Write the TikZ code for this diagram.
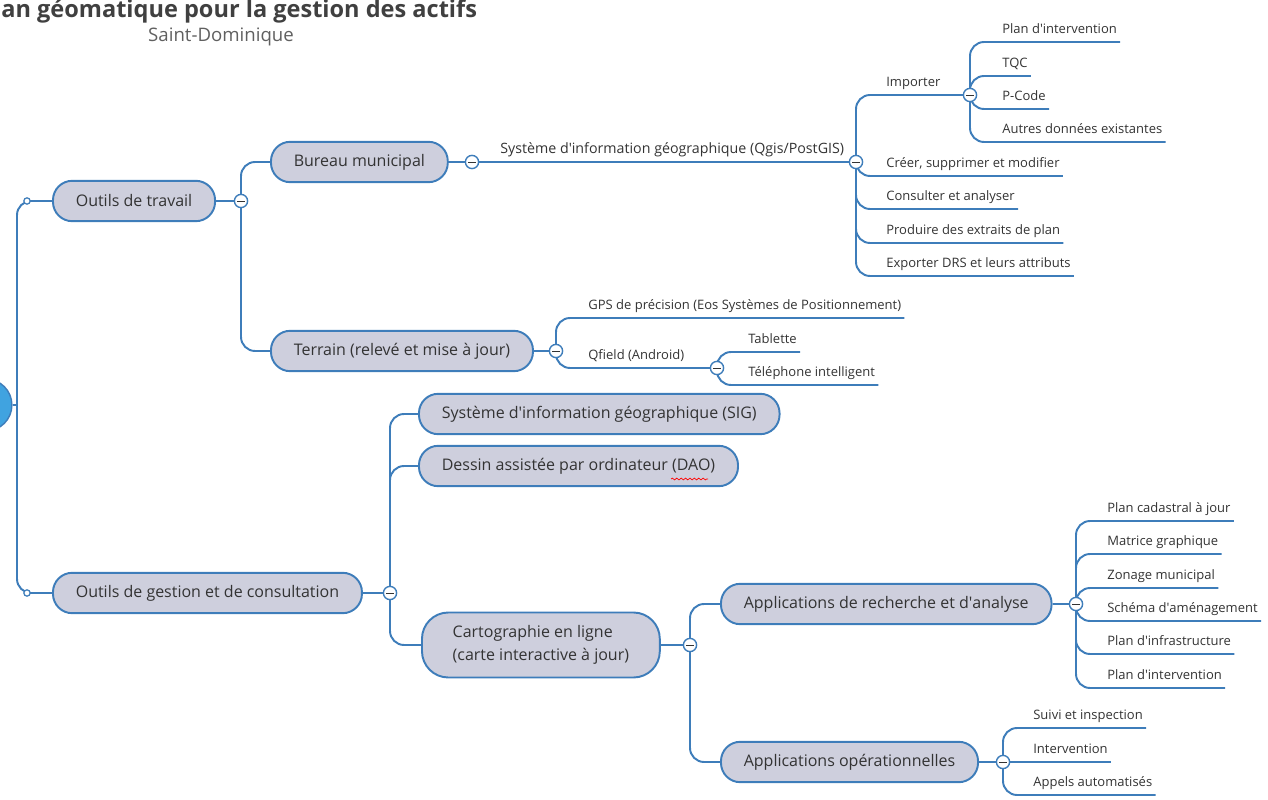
\documentclass[tikz,border=0pt]{standalone}
\usepackage{fontspec}
\setmainfont{Open Sans}
\usetikzlibrary{positioning,decorations.pathmorphing}
\definecolor{lineblue}{RGB}{62,125,186}
\definecolor{topicfill}{RGB}{206,207,221}
\definecolor{rootblue}{RGB}{64,163,224}
\definecolor{inkgray}{RGB}{51,51,51}
\definecolor{titlegray}{RGB}{64,64,64}
\definecolor{subgray}{RGB}{96,96,96}

\begin{document}
\begin{tikzpicture}[x=0.02cm, y=-0.02cm,
    topic/.style = {draw=lineblue, line width=1.1pt, fill=topicfill, rounded corners=11pt, minimum height=23pt, inner xsep=13pt, anchor=west, text=inkgray, font=\fontsize{9.1}{11.5}\selectfont},
    leaf/.style = {anchor=south west, inner xsep=1.7pt, inner ysep=2pt, text height=0.75em, text depth=0.25em, text=inkgray, font=\fontsize{7.4}{9}\selectfont},
    link/.style = {draw=lineblue, line width=1.1pt, rounded corners=8pt},
    coll/.style = {circle, draw=lineblue, fill=white, line width=0.8pt, minimum size=7.5pt, inner sep=0pt, path picture={\draw[inkgray, line width=0.5pt] ([xshift=-2pt]path picture bounding box.center) -- ([xshift=2pt]path picture bounding box.center);}},
    knob/.style = {circle, draw=lineblue, fill=white, line width=0.7pt, minimum size=3.6pt, inner sep=0pt}]
    \useasboundingbox (0,0) rectangle (1268,800);

    \node[anchor=west, inner sep=0pt, font=\bfseries\fontsize{13.4}{16}\selectfont, text=titlegray] (title) at (1,11) {an géomatique pour la gestion des actifs};
    \node[font=\fontsize{10.6}{13}\selectfont, text=subgray] (subtitle) at (221,37) {Saint-Dominique};

    \node[circle, fill=rootblue, draw=lineblue, line width=0.8pt, minimum size=29.5pt] (root) at (-14,405) {};

    \node[topic] (travail) at (52,201) {Outils de travail};
    \node[topic] (gestion) at (52,593) {Outils de gestion et de consultation};
    \node[topic] (bureau) at (270,162) {Bureau municipal};
    \node[topic] (terrain) at (270,351) {Terrain (relevé et mise à jour)};
    \node[topic] (sig) at (418,414) {Système d\textquotesingle{}information géographique (SIG)};
    \node[topic] (dao) at (418,466) {Dessin assistée par ordinateur (DAO)};
    \node[topic, align=left, minimum height=37pt, inner xsep=17.5pt, rounded corners=15pt, font=\fontsize{9.1}{13}\selectfont] (carto) at (421,645) {Cartographie en ligne\\(carte interactive à jour)};
    \node[topic] (appr) at (720,604) {Applications de recherche et d\textquotesingle{}analyse};
    \node[topic] (appo) at (720,762) {Applications opérationnelles};

    \node[leaf, font=\fontsize{8.1}{10}\selectfont] (qgis) at (497,162) {Système d\textquotesingle{}information géographique (Qgis/PostGIS)};
    \node[leaf] (importer) at (883,95) {Importer};
    \node[leaf] (creer) at (883,176) {Créer, supprimer et modifier};
    \node[leaf] (consulter) at (883,209) {Consulter et analyser};
    \node[leaf] (produire) at (883,243) {Produire des extraits de plan};
    \node[leaf] (exporter) at (883,276) {Exporter DRS et leurs attributs};
    \node[leaf] (pinterv) at (999,42) {Plan d\textquotesingle{}intervention};
    \node[leaf] (tqc) at (999,76) {TQC};
    \node[leaf] (pcode) at (999,109) {P-Code};
    \node[leaf] (autres) at (999,142) {Autres données existantes};
    \node[leaf] (gps) at (585,318) {GPS de précision (Eos Systèmes de Positionnement)};
    \node[leaf] (qfield) at (585,368) {Qfield (Android)};
    \node[leaf] (tablette) at (745,352) {Tablette};
    \node[leaf] (telephone) at (745,385) {Téléphone intelligent};
    \node[leaf] (cadastre) at (1104,521) {Plan cadastral à jour};
    \node[leaf] (matrice) at (1104,554) {Matrice graphique};
    \node[leaf] (zonage) at (1104,588) {Zonage municipal};
    \node[leaf] (schema) at (1104,621) {Schéma d\textquotesingle{}aménagement};
    \node[leaf] (infra) at (1104,654) {Plan d\textquotesingle{}infrastructure};
    \node[leaf] (planinterv) at (1104,688) {Plan d\textquotesingle{}intervention};
    \node[leaf] (suivi) at (1030,728) {Suivi et inspection};
    \node[leaf] (interv) at (1030,762) {Intervention};
    \node[leaf] (appels) at (1030,795) {Appels automatisés};

    \coordinate (rootjoin) at (17,405);
    \coordinate (k1) at (27,201);
    \coordinate (k2) at (27,593);
    \coordinate (c1) at (241,201);
    \coordinate (c2) at (472,162);
    \coordinate (c3) at (856,162);
    \coordinate (c4) at (970,95);
    \coordinate (c5) at (556,351);
    \coordinate (c6) at (717,368);
    \coordinate (c7) at (390,593);
    \coordinate (c8) at (690,645);
    \coordinate (c9) at (1076,604);
    \coordinate (c10) at (1003,762);

    \draw[link] (root) -- (rootjoin);
    \draw[link] (rootjoin) |- (travail);
    \draw[link] (rootjoin) |- (gestion);
    \draw[link] (travail) -- (c1);
    \draw[link] (c1) |- (bureau);
    \draw[link] (c1) |- (terrain);
    \draw[link] (bureau) -- (c2) -- (c3);
    \draw[link] (c3) |- (c4);
    \foreach \n in {creer,consulter,produire,exporter}
        \draw[link] (c3) |- (\n.south east);
    \foreach \n in {pinterv,tqc,pcode,autres}
        \draw[link] (c4) |- (\n.south east);
    \draw[link] (terrain) -- (c5);
    \draw[link] (c5) |- (gps.south east);
    \draw[link] (c5) |- (c6);
    \draw[link] (c6) |- (tablette.south east);
    \draw[link] (c6) |- (telephone.south east);
    \draw[link] (gestion) -- (c7);
    \foreach \n in {sig,dao,carto}
        \draw[link] (c7) |- (\n);
    \draw[link] (carto) -- (c8);
    \draw[link] (c8) |- (appr);
    \draw[link] (c8) |- (appo);
    \draw[link] (appr) -- (c9);
    \foreach \n in {cadastre,matrice,zonage,schema,infra,planinterv}
        \draw[link] (c9) |- (\n.south east);
    \draw[link] (appo) -- (c10);
    \draw[link] (c10) |- (suivi.south east);
    \draw[link] (c10) -- (interv.south east);
    \draw[link] (c10) |- (appels.south east);

    \foreach \c in {c1,c2,c3,c4,c5,c6,c7,c8,c9,c10}
        \node[coll] at (\c) {};
    \node[knob] at (k1) {};
    \node[knob] at (k2) {};

    \draw[red, line width=0.4pt, decorate, decoration={snake, amplitude=0.5pt, segment length=2.5pt}] (671,479) -- (708,479);
\end{tikzpicture}
\end{document}
